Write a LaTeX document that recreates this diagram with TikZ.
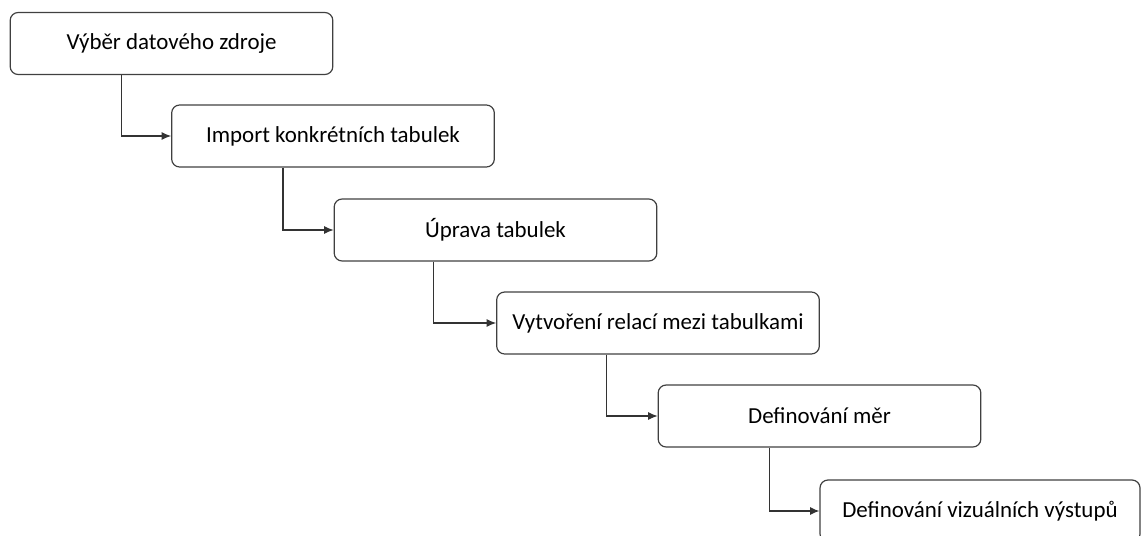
\documentclass[tikz,border=0pt]{standalone}
\usepackage{fontspec}
\setmainfont{Carlito}
\usepackage{tikz}
\usetikzlibrary{arrows, arrows.meta}
\usetikzlibrary{positioning}

\begin{document}
\begin{tikzpicture}[x=0.75pt, y=-0.75pt, >=latex']
	\tikzstyle{stepbox}=[rectangle, rounded corners=6pt, draw=black!75, line width=0.9pt, minimum width=242pt, minimum height=46.5pt, font=\fontsize{17.2}{20}\selectfont, inner sep=0pt]
	\tikzstyle{connect}=[-{Latex[length=7pt, width=6pt]}, line width=0.9pt, draw=black!80]
	
	\useasboundingbox (0,0) rectangle (1141,535);
	\clip (0,0) rectangle (1141,535);
	
	\node[stepbox] at (171.5, 43.5) (zdroj) {Výběr datového zdroje};
	\node[stepbox] at (333, 136) (import) {Import konkrétních tabulek};
	\node[stepbox] at (495.5, 230) (uprava) {Úprava tabulek};
	\node[stepbox] at (658, 323) (relace) {Vytvoření relací mezi tabulkami};
	\node[stepbox] at (819.5, 416) (mery) {Definování měr};
	\node[stepbox, minimum width=240pt] at (980, 511) (vystupy) {Definování vizuálních výstupů};
	
	\draw[connect] ([xshift=84pt]zdroj.south west) |- (import.west);
	\draw[connect] ([xshift=84pt]import.south west) |- (uprava.west);
	\draw[connect] ([xshift=75pt]uprava.south west) |- (relace.west);
	\draw[connect] ([xshift=83pt]relace.south west) |- (mery.west);
	\draw[connect] ([xshift=84pt]mery.south west) |- (vystupy.west);
	
\end{tikzpicture}
\end{document}
